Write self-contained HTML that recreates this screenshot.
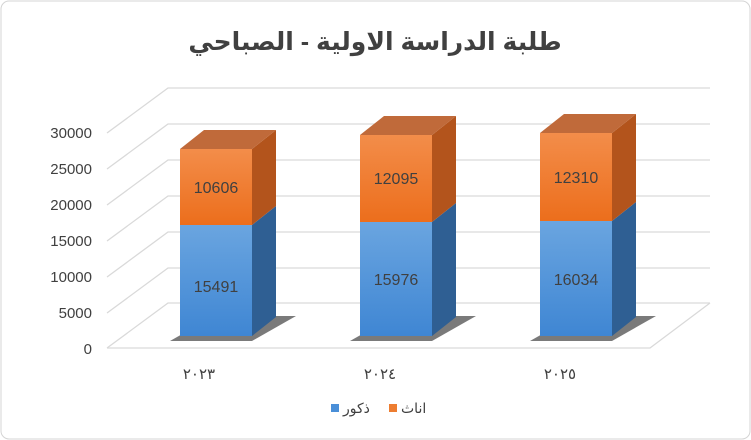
<!DOCTYPE html>
<html><head><meta charset="utf-8"><style>
body{margin:0;background:#fff}
svg{display:block}
text{font-family:"Liberation Sans","DejaVu Sans",sans-serif}
</style></head><body>
<svg width="751" height="440" viewBox="0 0 751 440">
<defs>
<linearGradient id="bf" x1="0" x2="0" y1="0" y2="1"><stop offset="0" stop-color="#6aa5e0"/><stop offset="1" stop-color="#3f86d3"/></linearGradient>
<linearGradient id="of" x1="0" x2="0" y1="0" y2="1"><stop offset="0" stop-color="#f38d4a"/><stop offset="1" stop-color="#ec6e1c"/></linearGradient>
</defs>
<rect x="1" y="1" width="749" height="438" rx="8" fill="#fff" stroke="#d4d4d4"/>
<text x="375" y="50" text-anchor="middle" font-size="25" font-weight="bold" fill="#404040" font-family="'Liberation Sans','DejaVu Sans',sans-serif">طلبة الدراسة الاولية - الصباحي</text>
<g stroke="#d9d9d9" stroke-width="1.3" fill="none">
<path d="M107 348 L168 303 L710 303"/>
<path d="M107 313 L168 268 L710 268"/>
<path d="M107 277 L168 232 L710 232"/>
<path d="M107 241 L168 196 L710 196"/>
<path d="M107 205 L168 160 L710 160"/>
<path d="M107 169 L168 124 L710 124"/>
<path d="M107 133 L168 88 L710 88"/>
<path d="M107 348 L650 348 L710 303"/>
</g>
<g font-size="15" fill="#404040" text-anchor="end">
<text x="92" y="354">0</text><text x="92" y="318">5000</text><text x="92" y="282">10000</text><text x="92" y="246">15000</text><text x="92" y="210">20000</text><text x="92" y="174">25000</text><text x="92" y="138">30000</text>
</g>
<g id="bars">
<!-- bar1 -->
<path d="M170 341 L252 341 L296 316 L214 316Z" fill="#595959" opacity="0.8"/>
<rect x="180" y="225" width="72" height="111" fill="url(#bf)"/>
<path d="M252 225 L276 206 L276 317 L252 336Z" fill="#2f5f93"/>
<rect x="180" y="149" width="72" height="76" fill="url(#of)"/>
<path d="M252 149 L276 130 L276 206 L252 225Z" fill="#b3541c"/>
<path d="M180 149 L204 130 L276 130 L252 149Z" fill="#c06a3a"/>
<!-- bar2 -->
<path d="M350 341 L432 341 L476 316 L394 316Z" fill="#595959" opacity="0.8"/>
<rect x="360" y="222" width="72" height="114" fill="url(#bf)"/>
<path d="M432 222 L456 203 L456 317 L432 336Z" fill="#2f5f93"/>
<rect x="360" y="135" width="72" height="87" fill="url(#of)"/>
<path d="M432 135 L456 116 L456 203 L432 222Z" fill="#b3541c"/>
<path d="M360 135 L384 116 L456 116 L432 135Z" fill="#c06a3a"/>
<!-- bar3 -->
<path d="M530 341 L612 341 L656 316 L574 316Z" fill="#595959" opacity="0.8"/>
<rect x="540" y="221" width="72" height="115" fill="url(#bf)"/>
<path d="M612 221 L636 202 L636 317 L612 336Z" fill="#2f5f93"/>
<rect x="540" y="133" width="72" height="88" fill="url(#of)"/>
<path d="M612 133 L636 114 L636 202 L612 221Z" fill="#b3541c"/>
<path d="M540 133 L564 114 L636 114 L612 133Z" fill="#c06a3a"/>
</g>
<g font-size="16" fill="#404040" text-anchor="middle">
<text x="216" y="292">15491</text><text x="216" y="193">10606</text>
<text x="396" y="285">15976</text><text x="396" y="184">12095</text>
<text x="576" y="285">16034</text><text x="576" y="183">12310</text>
</g>
<g font-size="15" fill="#404040" text-anchor="middle">
<text x="199" y="379">٢٠٢٣</text><text x="380" y="379">٢٠٢٤</text><text x="560" y="379">٢٠٢٥</text>
</g>
<rect x="331" y="404" width="8" height="8" fill="#4a8fd8"/>
<text x="343" y="413" font-size="14" fill="#404040">ذكور</text>
<rect x="389" y="404" width="8" height="8" fill="#ed7d31"/>
<text x="401" y="413" font-size="14" fill="#404040">اناث</text>
</svg>
</body></html>
